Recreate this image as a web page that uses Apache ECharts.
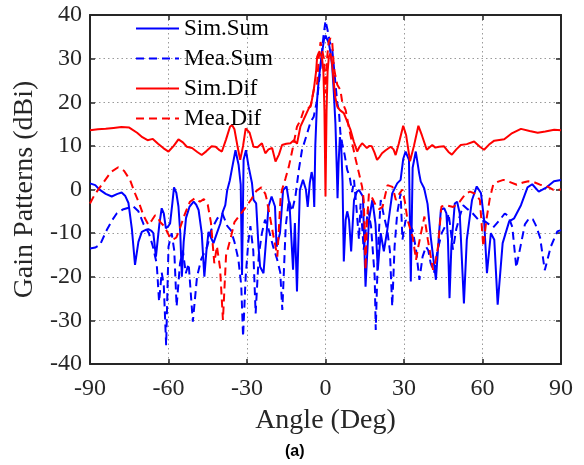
<!DOCTYPE html>
<html>
<head>
<meta charset="utf-8">
<script src="https://cdn.jsdelivr.net/npm/echarts@6/dist/echarts.min.js"></script>
<style>html,body{margin:0;padding:0;background:#fff;}#c{width:584px;height:465px;}</style>
</head>
<body>
<div id="c"></div>
<script>
var xTicks = [-90, -60, -30, 0, 30, 60, 90];
var yTicks = [-40, -30, -20, -10, 0, 10, 20, 30, 40];
var seriesNames = ['Sim.Sum', 'Mea.Sum', 'Sim.Dif', 'Mea.Dif'];

var simSumAngle = [-90,-88,-86.2,-84,-81.7,-79.5,-77.9,-76.5,-75.3,-74,-72.8,-71.5,-70.2,-68.5,-67.7,-66.5,-65.8,-64.8,-63.5,-62.6,-61.8,-61,-60.2,-59.4,-58.5,-57.9,-57,-56.2,-55.5,-54.9,-54.2,-53.3,-52,-50.4,-49.4,-48.5,-47.3,-46.3,-45.5,-44.7,-43.8,-42.8,-41.5,-40.2,-39.2,-38.3,-37.6,-36.6,-35.7,-34.4,-33.2,-32.4,-31.9,-31.3,-30.4,-29.4,-28.1,-27.5,-26.5,-25.6,-25,-23.7,-22.5,-21.8,-20.6,-19.3,-18.7,-17.4,-16.2,-14.9,-13.7,-12.4,-11.7,-10.9,-9.8,-8.6,-7.5,-6.8,-6,-5.3,-4.7,-4.3,-3.9,-3.2,-2.6,-1.7,-0.6,0,0.6,1.3,2,2.6,3.2,3.8,4.3,4.6,5,5.5,6,6.5,7,7.7,8.3,9,9.8,10.9,12,12.8,14.3,15.3,16.6,17.9,19.1,20,21.1,22.3,23.6,25.5,27.4,28.7,29.7,30.6,31.9,32.6,33.3,34.5,35.8,36.4,37.7,39,40.2,42.2,43.4,44.1,45.4,46.2,46.8,47.4,48.1,49.4,50.3,51.3,52.9,54,56,57.8,59.4,60.6,61.7,63.2,64.5,65.8,67.7,70.2,72.1,74.7,77.2,79,81.5,84.5,87.3,90];
var simSumGain = [1.4,1.0,-0.1,-1.0,-1.6,-1.0,-0.7,-1.5,-3.1,-9,-17.3,-12,-9.7,-9.2,-9.1,-9.5,-10.0,-15.4,-8,-4.3,-5.5,-8.9,-8.5,-7.8,-3,0.5,-0.8,-3.9,-10,-20,-12,-6.5,-4,-2.8,-3.5,-4.7,-10,-20,-14,-9.7,-11,-12.3,-10,-7.8,-5,-3.6,-0.3,2,4.9,9,5.6,1.1,-19.6,6.8,9,5.3,1.5,-2.4,-3.2,-13.1,-17.7,-19.2,-10,-3.9,-1.6,-3.9,-13.1,-10,-0.1,0.7,-3.9,-18.4,-7.7,-23.4,-0.1,2.2,0,-4,1.5,4,2,-4,10,20.6,25,29.7,34.3,35.3,35,33.5,31,28,22,15,5,-2,6,12,10,2,-16.5,-7,-5,-7,-14.2,-2.4,-0.5,-0.1,-1.6,-22.3,-7,-2.4,-7.8,-18.4,-10,-14.2,-9.3,-0.9,1.4,2.2,7,8.7,6.8,-21.1,5,8.7,3.7,1.8,0.3,-3.3,-10.8,-20.7,-10,-4.6,-4.3,-5.5,-11.5,-24.9,-13.1,-3.2,-2.8,-5.5,-26.1,-11.5,-2.4,0.7,-0.8,-6.9,-19.2,-10,-11.5,-26.4,-12.3,-7.3,-6.6,-3.6,0.5,1.2,-0.5,0.5,1.9,2.2];

var meaSumAngle = [-90,-88,-86.2,-83.6,-81.5,-79.8,-77.5,-75.9,-73.4,-71.5,-69.5,-67.5,-66,-64.5,-63.6,-62.6,-61.8,-60.9,-60,-58.8,-57.8,-56.9,-55.6,-54.5,-53.4,-52.3,-50.7,-49.1,-47.5,-45.2,-43.7,-41.3,-39.4,-37.5,-36.2,-34.8,-33.3,-32.2,-31.5,-30.5,-29.5,-28.7,-27.6,-26.7,-25.5,-24.3,-23.1,-21.8,-20,-18.5,-17.3,-16.5,-15.2,-14,-12.8,-11.5,-10.2,-9,-7,-5.7,-4.5,-3.2,-1.9,-0.8,0,0.8,1.6,2.6,3.8,4.5,5.1,5.7,6.4,7.3,8.3,9.2,10.2,10.9,11.8,12.8,13.4,14.6,16.2,17.4,18.8,19.2,20.1,21.1,22.3,23.6,24.6,25.5,26.4,27.4,28.7,29.4,30.6,32,33.3,34.6,35.9,37.1,38.4,39.3,40.2,41.5,42.8,44.4,46.4,47,47.8,48.7,50,51.3,52.6,54.3,56.3,58.5,60.9,62.5,64.1,66.7,68.5,69.8,71.4,72.9,74.6,76.2,77.8,79.2,80.3,82,83.8,86.1,88.6,90];
var meaSumGain = [-13.5,-13.3,-12.7,-9.3,-7,-5.5,-4.6,-4.3,-3.9,-5,-8,-10,-13,-17,-25.7,-19,-22,-35.7,-13.1,-10,-14,-26.8,-16.9,-14,-19.2,-17,-30.3,-20,-16,-13.1,-9.3,-6.6,-5.5,-8.4,-9.3,-12,-16,-22,-33.7,-20,-12,-8.4,-14,-28.4,-15,-10,-6.9,-9,-13.1,-16,-19,-27.6,-8.4,-2.4,-5,-1.6,4.5,9,12.9,15.5,16.7,20.5,28.1,35,38.7,36.5,34,32,24.3,19.8,18.2,12.9,10.5,8,4.5,3,-0.6,2.2,-4,-11.5,-3.2,-13.8,-4.6,-8.4,-20,-32.2,-13.1,-2.4,-6,-9.3,-14,-26.8,-13.1,-5.5,-0.9,-11.5,-7,-8,-9.3,-13.8,-20.7,-15.4,-13.1,-14,-16.9,-19,-14,-10,-7.7,-5.5,-9,-13.8,-9,-6.2,-3.6,-4.5,-5.5,-7,-7.3,-8,-8.7,-6.9,-5.5,-6,-8.6,-17.9,-12.8,-8,-6.6,-6.8,-8.1,-11,-18.5,-13.1,-9.6,-9.3];

var simDifAngle = [-90,-87,-84,-81,-78,-75,-72,-70,-68,-66,-64,-62,-60,-58,-56.2,-54.5,-53,-51,-49,-47.3,-45.5,-43.5,-42,-40.5,-39.6,-38,-36.5,-35.7,-34.8,-33.5,-32.6,-31.5,-30.5,-30,-29,-27.5,-26,-24.3,-23,-21.8,-20.4,-19.1,-17.8,-16.6,-15,-13.4,-12.1,-10.9,-9.6,-8,-6.4,-5.5,-4.5,-3.6,-3.2,-2.5,-1.8,-1.3,-0.8,-0.4,0,0.4,0.8,1.3,1.9,2.5,3.2,3.8,4.5,5.5,7,8,9.6,10.8,12.1,13,14,15,15.8,16.8,17.7,18.7,19.7,20.7,21.6,23,24.9,26,26.8,28,29.7,30.8,32.3,33.8,35.5,36.8,38.7,40,40.8,42,43.4,45.3,47,48.3,50,51.7,54,56.8,59,60.6,62.5,64.5,68.3,71,74.7,78,81.1,84,87.4,90];
var simDifGain = [13.6,13.8,13.9,14.1,14.3,14.2,13.0,12.0,11.3,11.6,10.5,9.5,8.7,10.0,11.5,10.8,9.8,9.5,8.6,7.9,8.8,9.9,9.8,9.0,8.7,11.5,14.4,14.8,13.8,9.5,6.8,10,14.0,14.4,13.0,9.8,9.7,10.6,8.3,9.2,9.5,6.4,8.0,10.2,10.5,10.6,11.3,10.5,14.4,16.5,18.6,19.5,22.8,27,30.4,31.5,31,30,27,18,-1.6,18,27,30.5,31.2,29,24.3,21,19,18.2,17.5,16,13.6,11,8.7,9.8,10.6,10,9.5,10,9.9,8.5,6.8,7.5,8.3,9.0,9.8,9.2,7.9,10.5,14.6,12.5,6.5,10,14.6,12.5,9.1,9.8,10.2,9.6,9.8,9.9,8.6,8.0,9.2,10.2,10.4,11.0,9.8,9.1,10.3,11.2,11.5,12.8,13.9,13.4,13.0,13.3,13.7,13.6];

var meaDifAngle = [-90,-88.5,-87.4,-85,-82,-79.2,-77,-74.7,-72.8,-71,-69.6,-67.7,-66.3,-65.1,-64,-63.1,-61.5,-59.7,-58.3,-57,-55.7,-53.8,-51.8,-49.9,-48,-46.5,-45,-43.8,-42.5,-41.5,-40.3,-39.2,-38,-36.1,-34.8,-32.9,-31,-28.3,-26.4,-24.5,-23,-22.5,-21,-19.8,-19.1,-18.4,-17.2,-16.6,-15.3,-14,-12.5,-10.9,-9.5,-8.3,-7,-5.7,-4.5,-3.2,-2.6,-1.9,-1.2,-0.6,0,0.6,1.2,1.9,2.6,3.2,3.8,4.5,5.7,6.4,7.7,9,10.2,11.5,12.8,14,14.6,15,15.3,15.8,16.6,17.9,19.2,20.5,21.8,23.7,25.6,26.9,28.2,29.4,30.4,31.3,33.3,34.6,35.5,36.5,37.8,39.1,41.1,42.2,43,44.3,46.2,48.8,51.3,53.5,55.2,57.3,59,60.3,61.5,62.8,64.1,66,68,70,73.1,75.5,77.5,80,82,84.5,87.1,90];
var meaDifGain = [-3.2,-1.5,-0.5,1.5,4,5.1,4.3,2.2,-0.9,-3.5,-5.9,-8.1,-7,-5.9,-6.5,-7.5,-8.5,-10.7,-11.5,-11,-9,-5.7,-2.8,-2,-2.8,-2.2,-3.5,-7.5,-16.9,-13,-18,-29.9,-15.1,-10.8,-7.5,-6,-4.5,-2.2,-0.3,0.5,-1.0,-2.2,-7,-11,-13.1,-15.4,-2.2,0,2.5,5.3,9.5,14.4,16,18.2,18.5,19,22.8,24.3,30,33.8,34,30,22,30,33.8,34.7,33.5,28.1,26,24,22.8,20,18.2,14,10.6,7,3.7,0.6,-2.4,-10,-18.4,-8,-0.9,-2,-3.6,-4.5,-4,1,0.6,-2.4,-1,0,-3,-6.9,-10.8,-16.1,-13,-10,-6.2,-11.5,-18.4,-16,-13.1,-3.9,-3.6,-4,-2.8,-1,-0.5,-1,-2.4,-13.1,-6.9,-2,1.1,1.8,2.2,1.8,1.1,1.6,1.9,1.6,1.1,0.8,-0.1,0];

function pairs(a, b) { return a.map(function (x, i) { return [x, b[i]]; }); }

var FONT = '"Liberation Serif", "Times New Roman", serif';
var AX = '#262626';
var chart = echarts.init(document.getElementById('c'), null, { renderer: 'canvas' });

function mkSeries(name, a, g, color, dashed) {
  return {
    name: name, type: 'line', data: pairs(a, g), symbol: 'none', smooth: false,
    xAxisIndex: 0, yAxisIndex: 0, animation: false,
    lineStyle: { color: color, width: 2, type: dashed ? [8, 5] : 'solid' },
    itemStyle: { color: color }
  };
}

chart.setOption({
  animation: false,
  backgroundColor: '#ffffff',
  grid: { left: 90, right: 23, top: 15, bottom: 101, containLabel: false },
  legend: {
    data: seriesNames, orient: 'vertical', left: 135, top: 17,
    itemWidth: 43, itemHeight: 20, itemGap: 7, padding: 0,
    textStyle: { fontFamily: FONT, fontSize: 23, color: '#000', lineHeight: 20 },
    itemStyle: { opacity: 0 }
  },
  xAxis: [{
    type: 'value', min: -90, max: 90, interval: 30, position: 'bottom',
    name: 'Angle (Deg)', nameLocation: 'middle', nameGap: 43,
    nameTextStyle: { fontFamily: FONT, fontSize: 28, color: AX },
    axisLine: { show: true, onZero: false, lineStyle: { color: AX, width: 2 } },
    axisTick: { show: true, inside: true, length: 5, lineStyle: { color: AX, width: 1.5 } },
    axisLabel: { fontFamily: FONT, fontSize: 24, color: AX, margin: 13,
      formatter: function (v) { return xTicks.indexOf(v) >= 0 ? String(v) : ''; } },
    splitLine: { show: true, lineStyle: { color: '#9a9a9a', width: 1, type: [1.5, 3] } }
  }, {
    type: 'value', min: -90, max: 90, interval: 30, position: 'top',
    axisLine: { show: true, onZero: false, lineStyle: { color: AX, width: 2 } },
    axisTick: { show: true, inside: true, length: 5, lineStyle: { color: AX, width: 1.5 } },
    axisLabel: { show: false }, splitLine: { show: false }
  }],
  yAxis: [{
    type: 'value', min: -40, max: 40, interval: 10, position: 'left',
    name: 'Gain Patterns (dBi)', nameLocation: 'middle', nameGap: 48,
    nameTextStyle: { fontFamily: FONT, fontSize: 28, color: AX },
    axisLine: { show: true, onZero: false, lineStyle: { color: AX, width: 2 } },
    axisTick: { show: true, inside: true, length: 5, lineStyle: { color: AX, width: 1.5 } },
    axisLabel: { fontFamily: FONT, fontSize: 24, color: AX, margin: 8,
      formatter: function (v) { return yTicks.indexOf(v) >= 0 ? String(v) : ''; } },
    splitLine: { show: true, lineStyle: { color: '#9a9a9a', width: 1, type: [1.5, 3] } }
  }, {
    type: 'value', min: -40, max: 40, interval: 10, position: 'right',
    axisLine: { show: true, onZero: false, lineStyle: { color: AX, width: 2 } },
    axisTick: { show: true, inside: true, length: 5, lineStyle: { color: AX, width: 1.5 } },
    axisLabel: { show: false }, splitLine: { show: false }
  }],
  graphic: [{
    type: 'text', left: 285, top: 444,
    style: { text: '(a)', fontFamily: 'Liberation Sans, Arial, sans-serif', fontWeight: 'bold', fontSize: 16, fill: '#000' }
  }],
  series: [
    mkSeries(seriesNames[0], simSumAngle, simSumGain, '#0000ff', false),
    mkSeries(seriesNames[1], meaSumAngle, meaSumGain, '#0000ff', true),
    mkSeries(seriesNames[2], simDifAngle, simDifGain, '#ff0000', false),
    mkSeries(seriesNames[3], meaDifAngle, meaDifGain, '#ff0000', true)
  ]
});
</script>
</body>
</html>
